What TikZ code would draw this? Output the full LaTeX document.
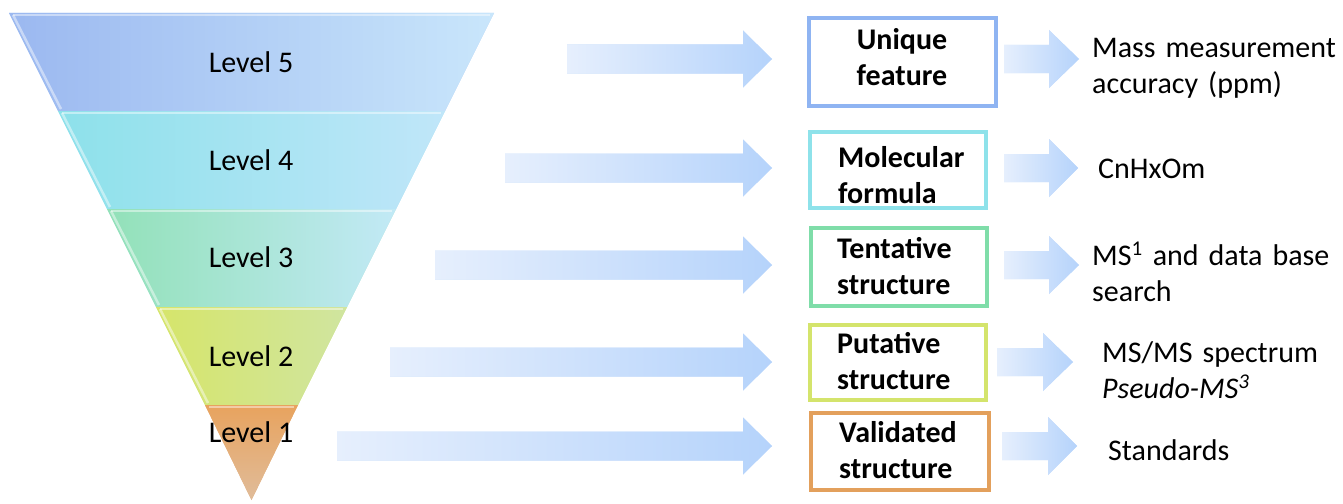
\documentclass[tikz,border=0pt]{standalone}
\usepackage{fontspec}
\setmainfont{Carlito}
\definecolor{arrL}{HTML}{E6EFFD}
\definecolor{arrR}{HTML}{B5D3FB}
\definecolor{cFive}{HTML}{8FB4F2}
\definecolor{cFour}{HTML}{8EE2EA}
\definecolor{cThree}{HTML}{7FDDA9}
\definecolor{cTwo}{HTML}{D4E46C}
\definecolor{cOne}{HTML}{E3A05C}
\definecolor{fFiveL}{HTML}{9BB8F0}
\definecolor{fFiveR}{HTML}{C9E6FB}
\definecolor{fFourL}{HTML}{8DE1EA}
\definecolor{fFourR}{HTML}{C0E6F9}
\definecolor{fThreeL}{HTML}{92E1B8}
\definecolor{fThreeR}{HTML}{C2E9F6}
\definecolor{fTwoL}{HTML}{D6E56A}
\definecolor{fTwoR}{HTML}{D0E5A0}
\definecolor{fOneT}{HTML}{E8A35E}
\definecolor{fOneB}{HTML}{E0BC9A}
\newcommand\blockarr[6]{%
  \path[arrowbase] (#1,#4-#5) -- (#2,#4-#5) -- (#2,#4-#6) -- (#3,#4) -- (#2,#4+#6) -- (#2,#4+#5) -- (#1,#4+#5) -- cycle;}
\begin{document}
\begin{tikzpicture}[x=1pt,y=-1pt]
\useasboundingbox (0,0) rectangle (1343,503);
\tikzset{
  arrowbase/.style={fill=arrR!55!arrL, left color=arrL, right color=arrR, draw=none},
  band/.style 2 args={fill=#1!50!#2, left color=#1, right color=#2, draw=none},
  lvl/.style={font=\fontsize{30}{36}\selectfont, anchor=base, inner sep=0pt},
  boxframe/.style={draw=#1, line width=3.5pt, fill=white, inner sep=0pt},
  boxtext/.style={font=\bfseries\fontsize{30}{36}\selectfont, anchor=base west, text width=160pt, align=left, inner sep=0pt},
  sidetext/.style={font=\fontsize{30}{36}\selectfont, anchor=base west, text width=250pt, align=left, inner sep=0pt},
  bevel/.style={white, opacity=0.45, line width=2.5pt},
}
% funnel bands
\path[band={fFiveL}{fFiveR}] (9,13) -- (494,13) -- (445,111) -- (58,111) -- cycle;
\path[band={fFourL}{fFourR}] (58,111) -- (445,111) -- (396,209) -- (107,209) -- cycle;
\path[band={fThreeL}{fThreeR}] (107,209) -- (396,209) -- (347,307) -- (156,307) -- cycle;
\path[band={fTwoL}{fTwoR}] (156,307) -- (347,307) -- (298,405) -- (205,405) -- cycle;
\path[fill=fOneT!50!fOneB, top color=fOneT, bottom color=fOneB, draw=none] (205,405) -- (298,405) -- (251.5,500) -- cycle;
% bevel highlights
\draw[bevel] (13,15) -- (490,15);
\draw[bevel] (13,15) -- (61,109);
\draw[bevel] (62,113) -- (441,113);
\draw[bevel] (62,113) -- (110,207);
\draw[bevel] (111,211) -- (392,211);
\draw[bevel] (111,211) -- (159,305);
\draw[bevel] (160,309) -- (343,309);
\draw[bevel] (160,309) -- (208,403);
\draw[bevel] (209,407) -- (294,407);
% level labels
\node[lvl] (l5) at (251,72) {Level 5};
\node[lvl] (l4) at (251,170) {Level 4};
\node[lvl] (l3) at (251,267) {Level 3};
\node[lvl] (l2) at (251,366) {Level 2};
\node[lvl] (l1) at (251,442) {Level 1};
% big arrows
\blockarr{567}{743}{772}{59}{14.5}{28.5}
\blockarr{505}{743}{772}{168}{14.5}{28.5}
\blockarr{435}{743}{772}{265}{14.5}{28.5}
\blockarr{390}{743}{772}{362}{14.5}{28.5}
\blockarr{337}{743}{772}{446}{14.5}{28.5}
% boxes
\node[boxframe=cFive, minimum width=187pt, minimum height=88pt] (b5) at (902.5,62) {};
\node[boxframe=cFour, minimum width=176pt, minimum height=76pt] (b4) at (898,170) {};
\node[boxframe=cThree, minimum width=176pt, minimum height=78pt] (b3) at (899,267) {};
\node[boxframe=cTwo, minimum width=176pt, minimum height=75pt] (b2) at (898,362.5) {};
\node[boxframe=cOne, minimum width=178pt, minimum height=77pt] (b1) at (900,451.5) {};
\node[boxtext, anchor=base, text width=180pt, align=center] (t5) at (902,49) {Unique\\feature};
\node[boxtext] (t4) at (838,167) {Molecular\\formula};
\node[boxtext] (t3) at (837,258) {Tentative\\structure};
\node[boxtext] (t2) at (837,353) {Putative\\structure};
\node[boxtext] (t1) at (839,442) {Validated\\structure};
% small arrows
\blockarr{1004}{1049}{1079}{59}{14}{29}
\blockarr{1004}{1049}{1078}{168}{14}{29}
\blockarr{1004}{1049}{1079}{265}{14}{29}
\blockarr{997}{1043}{1073}{362}{14}{29}
\blockarr{1002}{1048}{1077}{446}{14}{29}
% side texts
\node[sidetext] (s5) at (1092,57) {Mass measurement\\accuracy (ppm)};
\node[sidetext] (s4) at (1098,178) {CnHxOm};
\node[sidetext] (s3) at (1092,265) {MS\textsuperscript{1} and data base\\search};
\node[sidetext] (s2) at (1102,362) {MS/MS spectrum\\\textit{Pseudo-MS\textsuperscript{3}}};
\node[sidetext] (s1) at (1108,460) {Standards};
\end{tikzpicture}
\end{document}
